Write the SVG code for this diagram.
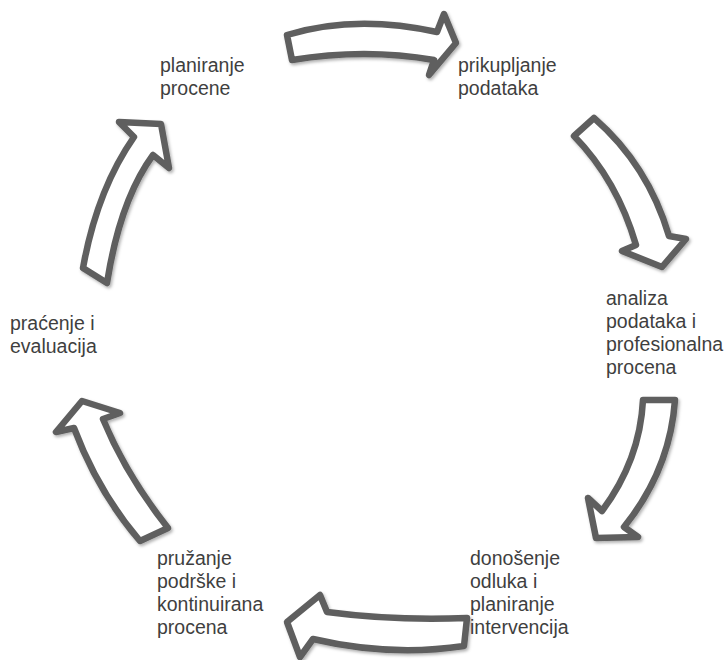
<svg xmlns="http://www.w3.org/2000/svg" width="724" height="660" viewBox="0 0 724 660">
<defs>
<style>
.lbl{font-family:"Liberation Sans",Arial,sans-serif;font-size:19.5px;fill:#3f3f3f}
.arr{fill:#ffffff;stroke:#5f5f5f;stroke-width:6.5;stroke-linejoin:round}
</style>
<filter id="sh" x="-20%" y="-20%" width="140%" height="140%">
<feDropShadow dx="1.5" dy="2" stdDeviation="1.5" flood-color="#000" flood-opacity="0.3"/>
</filter>
</defs>
<rect width="724" height="660" fill="#ffffff"/>
<g id="connectors" filter="url(#sh)">
<path class="arr" d="M287,35 Q355,14 437,32 L444,14 L456,43 L429,75 L434,60 Q365,48 292,60 Z"/>
<path class="arr" d="M574,136 L594,118 Q648,165 669,236 L686,239 L662,267 L622,251 L636,245 Q617,180 574,136 Z"/>
<path class="arr" d="M643,400 L675,400 Q670,470 624,527 L638,537 L596,538 L588,498 L602,511 Q640,460 643,400 Z"/>
<path class="arr" d="M467,618 L464,646 Q390,657 313,639 L300,657 L287,622 L320,595 L327,612 Q395,621 467,618 Z"/>
<path class="arr" d="M140,541 L168,528 Q126,475 103,419 L120,413 L82,401 L56,432 L74,428 Q98,492 140,541 Z"/>
<path class="arr" d="M83,268 L107,283 Q120,200 153,155 L169,168 L161,124 L119,122 L134,137 Q97,190 83,268 Z"/>
</g>
<g id="n1"><text class="lbl" x="160" y="72">planiranje</text><text class="lbl" x="160" y="95">procene</text></g>
<g id="n2"><text class="lbl" x="458" y="72">prikupljanje</text><text class="lbl" x="458" y="95">podataka</text></g>
<g id="n3"><text class="lbl" x="606" y="305">analiza</text><text class="lbl" x="606" y="328">podataka i</text><text class="lbl" x="606" y="351">profesionalna</text><text class="lbl" x="606" y="374">procena</text></g>
<g id="n4"><text class="lbl" x="470" y="565">donošenje</text><text class="lbl" x="470" y="588">odluka i</text><text class="lbl" x="470" y="611">planiranje</text><text class="lbl" x="470" y="634">intervencija</text></g>
<g id="n5"><text class="lbl" x="157" y="565">pružanje</text><text class="lbl" x="157" y="588">podrške i</text><text class="lbl" x="157" y="611">kontinuirana</text><text class="lbl" x="157" y="634">procena</text></g>
<g id="n6"><text class="lbl" x="10" y="330">praćenje i</text><text class="lbl" x="10" y="353">evaluacija</text></g>
</svg>
